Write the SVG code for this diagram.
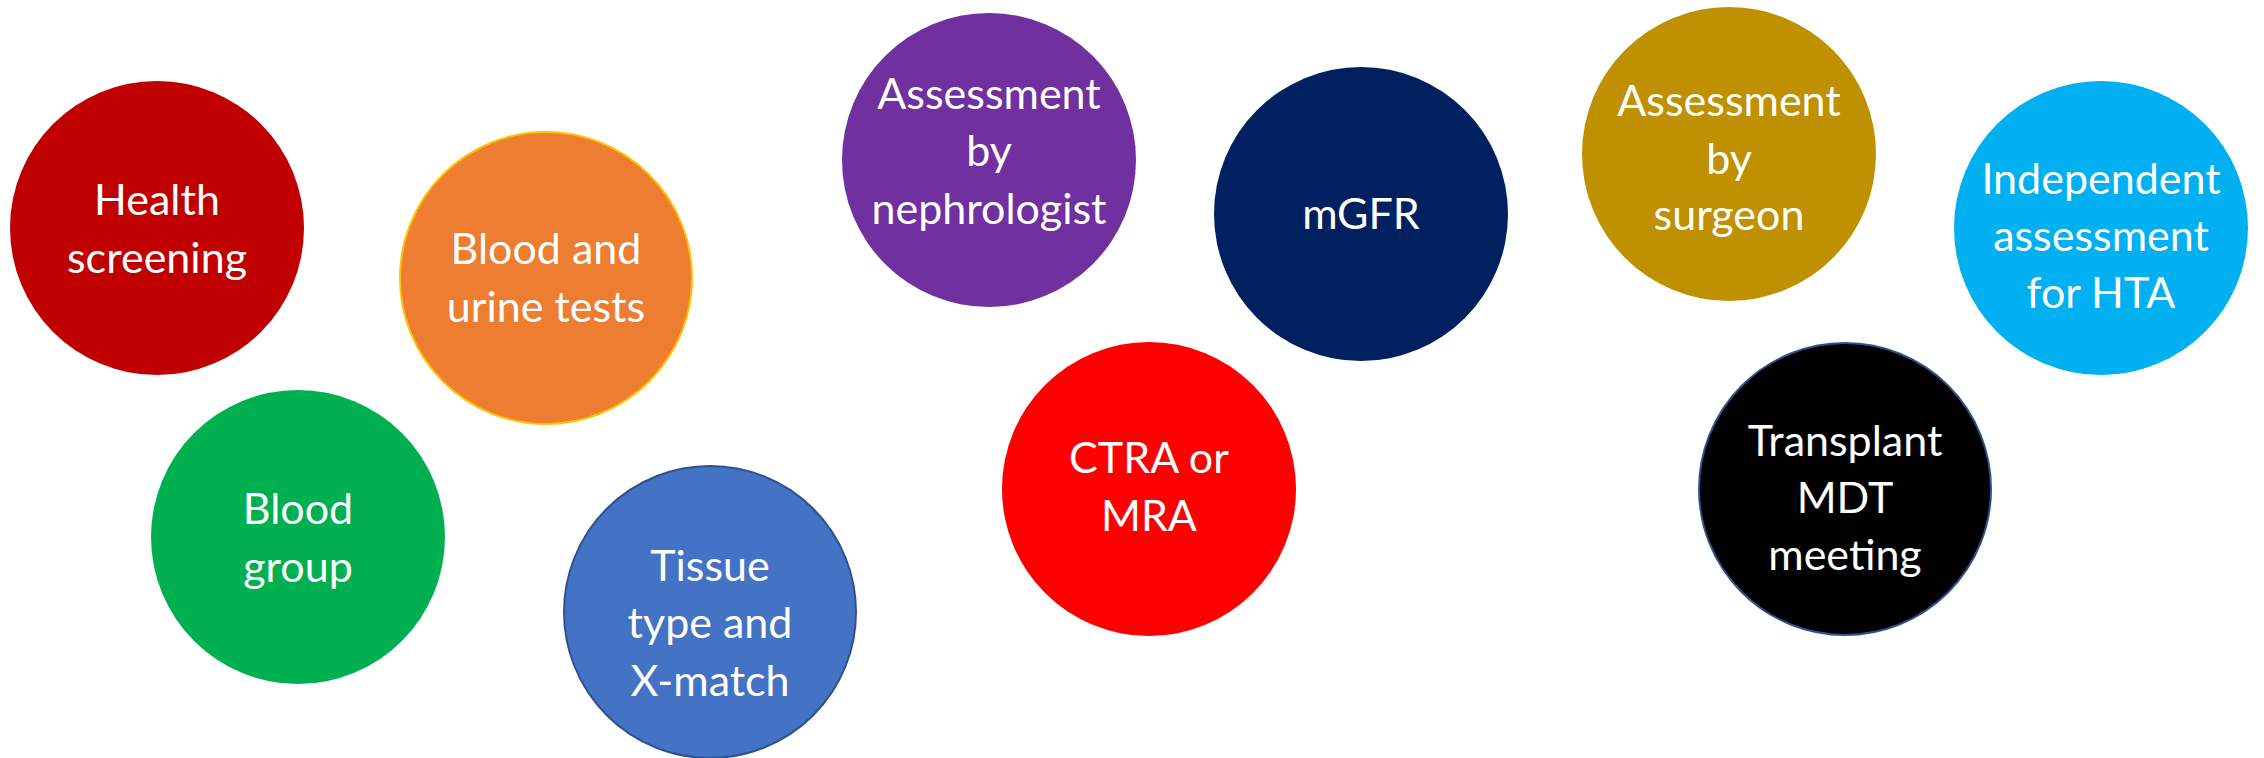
<svg xmlns="http://www.w3.org/2000/svg" width="2264" height="758" viewBox="0 0 2264 758">
  <style>
    .lbl { font-family: Lato, "Open Sans", "Liberation Sans", sans-serif; font-size: 43px; fill: #FFFFFF; text-anchor: middle; }
  </style>
  <rect x="0" y="0" width="2264" height="758" fill="#FFFFFF"/>
  <g id="connectors"></g>

  <g id="health-screening">
    <circle cx="157" cy="228" r="147" fill="#C00000"/>
    <text class="lbl"><tspan x="157" y="215">Health</tspan><tspan x="157" y="273">screening</tspan></text>
  </g>

  <g id="blood-urine-tests">
    <circle cx="546" cy="278" r="146" fill="#ED7D31" stroke="#FFC000" stroke-width="2"/>
    <text class="lbl"><tspan x="546" y="264">Blood and</tspan><tspan x="546" y="322">urine tests</tspan></text>
  </g>

  <g id="blood-group">
    <circle cx="298" cy="537" r="147" fill="#00B050"/>
    <text class="lbl"><tspan x="298" y="524">Blood</tspan><tspan x="298" y="582">group</tspan></text>
  </g>

  <g id="tissue-type">
    <circle cx="710" cy="612" r="146" fill="#4472C4" stroke="#2F528F" stroke-width="2"/>
    <text class="lbl"><tspan x="710" y="581">Tissue</tspan><tspan x="710" y="638">type and</tspan><tspan x="710" y="696">X-match</tspan></text>
  </g>

  <g id="nephrologist">
    <circle cx="989" cy="160" r="147" fill="#7030A0"/>
    <text class="lbl"><tspan x="989" y="109">Assessment</tspan><tspan x="989" y="166">by</tspan><tspan x="989" y="224">nephrologist</tspan></text>
  </g>

  <g id="ctra-mra">
    <circle cx="1149" cy="489" r="147" fill="#FF0000"/>
    <text class="lbl"><tspan x="1149" y="473">CTRA or</tspan><tspan x="1149" y="531">MRA</tspan></text>
  </g>

  <g id="mgfr">
    <circle cx="1361" cy="214" r="147" fill="#002060"/>
    <text class="lbl"><tspan x="1361" y="229">mGFR</tspan></text>
  </g>

  <g id="surgeon">
    <circle cx="1729" cy="154" r="147" fill="#BF9000"/>
    <text class="lbl"><tspan x="1729" y="116">Assessment</tspan><tspan x="1729" y="174">by</tspan><tspan x="1729" y="230">surgeon</tspan></text>
  </g>

  <g id="hta">
    <circle cx="2101" cy="228" r="147" fill="#00B0F0"/>
    <text class="lbl"><tspan x="2101" y="194">Independent</tspan><tspan x="2101" y="251">assessment</tspan><tspan x="2101" y="308">for HTA</tspan></text>
  </g>

  <g id="mdt-meeting">
    <circle cx="1845" cy="489" r="146" fill="#000000" stroke="#2F528F" stroke-width="2"/>
    <text class="lbl"><tspan x="1845" y="456">Transplant</tspan><tspan x="1845" y="513">MDT</tspan><tspan x="1845" y="570">meeting</tspan></text>
  </g>
</svg>
